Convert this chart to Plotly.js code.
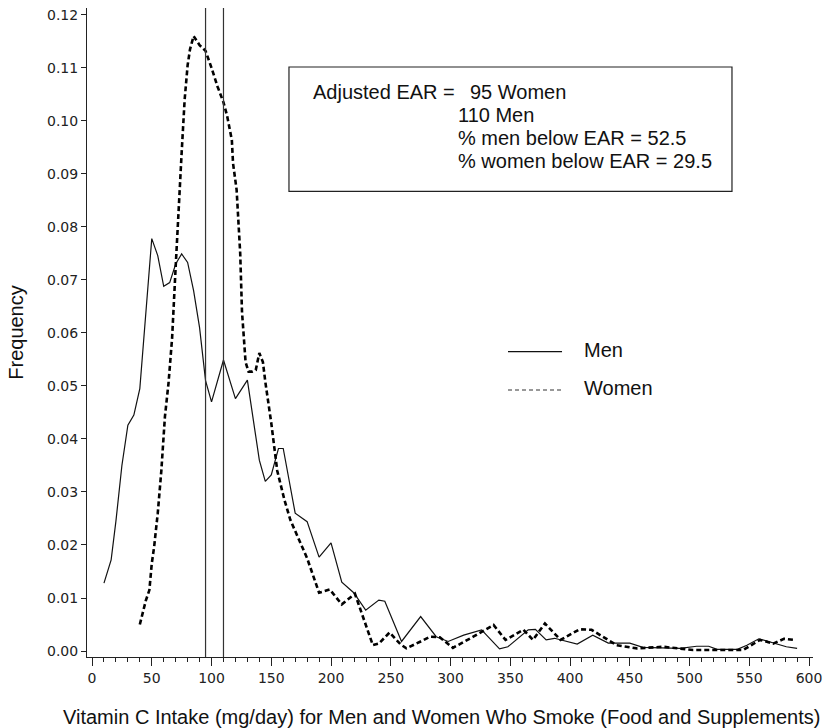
<!DOCTYPE html>
<html>
<head>
<meta charset="utf-8">
<script src="https://cdn.plot.ly/plotly-3.0.1.min.js"></script>
<style>html,body{margin:0;padding:0;background:#fff;}#chart{width:824px;height:728px;}</style>
</head>
<body>
<div id="chart"></div>
<script>
// Men (solid line): intake (mg/day) and frequency
const menX = [10,16,20,25,30,35,40,45,50,55,60,65,70,75,80,85,90,95,100,110,120,130,140,145,150,156,160,170,180,190,200,209,219,229,240,245,259,275,288,298,311,326,341,348,365,371,380,387,406,419,432,450,461,492,506,516,523,540,548,558,570,581,590];
const menY = [0.0128,0.0172,0.0245,0.035,0.0426,0.0445,0.0495,0.063,0.0778,0.0746,0.0688,0.0695,0.073,0.0749,0.0733,0.068,0.061,0.051,0.047,0.0549,0.0476,0.0511,0.036,0.032,0.0332,0.0382,0.0382,0.026,0.0244,0.0177,0.0204,0.013,0.011,0.0077,0.0096,0.0094,0.0018,0.0065,0.0027,0.0018,0.003,0.004,0.0004,0.0008,0.004,0.0041,0.0021,0.0024,0.0013,0.003,0.0015,0.0015,0.0007,0.0005,0.0009,0.0009,0.0003,0.0003,0.0011,0.0023,0.0015,0.0008,0.0005];

// Women (dashed line)
const womenX = [40,45,48,50,52,55,58,61,64,67,70,72,75,77.5,80,82,85,90,95,100,105,110,113,117,118,121,122.5,124,125.5,128.5,131,134,137,140,143,145,150,155,161,166,180,190,199,209,220,235,240,249,258,263,275,283,291,302,319,336,346,361,369,379,392,408,418,439,456,478,503,520,545,559,570,579,588];
const womenY = [0.005,0.0095,0.0115,0.0165,0.0197,0.026,0.034,0.0442,0.0505,0.059,0.0725,0.082,0.094,0.104,0.1105,0.1135,0.116,0.1143,0.1132,0.110,0.1065,0.1035,0.101,0.0964,0.092,0.087,0.080,0.075,0.064,0.0545,0.0527,0.0527,0.053,0.0562,0.0545,0.0508,0.043,0.034,0.0285,0.0247,0.0175,0.011,0.0116,0.0088,0.0108,0.0011,0.0014,0.0035,0.0013,0.0005,0.0018,0.0027,0.0026,0.0006,0.0027,0.0049,0.0021,0.004,0.0021,0.0052,0.0021,0.0041,0.004,0.0011,0.0005,0.0008,0.0002,0.0002,0.0002,0.0021,0.0014,0.0023,0.0021];

// Adjusted EAR reference lines
const earValues = [95, 110];
const boxLabel = "Adjusted EAR =";
const boxLines = ["95 Women", "110 Men", "% men below EAR = 52.5", "% women below EAR = 29.5"];
const legendNames = ["Men", "Women"];
const xTitle = "Vitamin C Intake (mg/day) for Men and Women Who Smoke (Food and Supplements)";
const yTitle = "Frequency";

const TXT = "Liberation Sans, Arial, sans-serif";
const TICK = "DejaVu Sans, sans-serif";
const FS = 20;

const traces = [
  {x: menX, y: menY, type: "scatter", mode: "lines", name: legendNames[0],
   line: {color: "#111", width: 1.2}, showlegend: false},
  {x: womenX, y: womenY, type: "scatter", mode: "lines", name: legendNames[1],
   line: {color: "#000", width: 2.6, dash: "5px,3px"}, showlegend: false}
];

const shapes = earValues.map(v => ({type: "line", xref: "x", yref: "paper", x0: v, x1: v, y0: 0, y1: 1,
  line: {color: "#333", width: 1.2}}));
// annotation box
shapes.push({type: "rect", xref: "paper", yref: "paper", x0: 0.2782, x1: 0.8884, y0: 0.7173, y1: 0.9091,
  line: {color: "#222", width: 1.2}, fillcolor: "rgba(0,0,0,0)"});
// legend samples
shapes.push({type: "line", xref: "paper", yref: "paper", x0: 0.5799, x1: 0.6543, y0: 0.4704, y1: 0.4704,
  line: {color: "#111", width: 1.3}});
shapes.push({type: "line", xref: "paper", yref: "paper", x0: 0.5799, x1: 0.6543, y0: 0.4114, y1: 0.4114,
  line: {color: "#333", width: 1.1, dash: "4px,3px"}});

const annY = [0.8713, 0.8351, 0.7997, 0.7643];
const tf = {family: TXT, size: FS, color: "#111"};
const annotations = [
  {xref: "paper", yref: "paper", x: 0.3079, y: annY[0], xanchor: "left", yanchor: "middle",
   text: boxLabel, showarrow: false, font: tf},
  {xref: "paper", yref: "paper", x: 0.5245, y: annY[0], xanchor: "left", yanchor: "middle",
   text: boxLines[0], showarrow: false, font: tf},
  {xref: "paper", yref: "paper", x: 0.5076, y: annY[1], xanchor: "left", yanchor: "middle",
   text: boxLines[1], showarrow: false, font: tf},
  {xref: "paper", yref: "paper", x: 0.5076, y: annY[2], xanchor: "left", yanchor: "middle",
   text: boxLines[2], showarrow: false, font: tf},
  {xref: "paper", yref: "paper", x: 0.5076, y: annY[3], xanchor: "left", yanchor: "middle",
   text: boxLines[3], showarrow: false, font: tf},
  {xref: "paper", yref: "paper", x: 0.6818, y: 0.4730, xanchor: "left", yanchor: "middle",
   text: legendNames[0], showarrow: false, font: tf},
  {xref: "paper", yref: "paper", x: 0.6818, y: 0.4145, xanchor: "left", yanchor: "middle",
   text: legendNames[1], showarrow: false, font: tf},
  // x-axis title (centered slightly left of the plot centre, as in the original)
  {xref: "paper", yref: "paper", x: 0.4883, y: -0.0917, xanchor: "center", yanchor: "middle",
   text: xTitle, showarrow: false, font: tf}
];

const layout = {
  width: 824, height: 728,
  margin: {l: 87, r: 11, t: 8, b: 71, pad: 0},
  paper_bgcolor: "#fff", plot_bgcolor: "#fff",
  showlegend: false,
  xaxis: {
    range: [-4.2, 603.3], tick0: 0, dtick: 50,
    ticks: "outside", ticklen: 8, tickwidth: 1, tickcolor: "#222",
    showline: true, linecolor: "#222", linewidth: 1,
    showgrid: false, zeroline: false,
    minor: {dtick: 10, ticks: "outside", ticklen: 4, tickwidth: 1, tickcolor: "#222", showgrid: false},
    tickfont: {family: TICK, size: 14, color: "#222"}
  },
  yaxis: {
    range: [-0.00113, 0.1213], tick0: 0, dtick: 0.01, tickformat: ".2f",
    ticks: "outside", ticklen: 5, tickwidth: 1, tickcolor: "#222",
    showline: true, linecolor: "#222", linewidth: 1,
    showgrid: false, zeroline: false,
    tickfont: {family: TICK, size: 14, color: "#222"},
    title: {text: yTitle, font: tf, standoff: 18}
  },
  shapes: shapes,
  annotations: annotations
};

Plotly.newPlot("chart", traces, layout, {staticPlot: true, displayModeBar: false});
</script>
</body>
</html>
